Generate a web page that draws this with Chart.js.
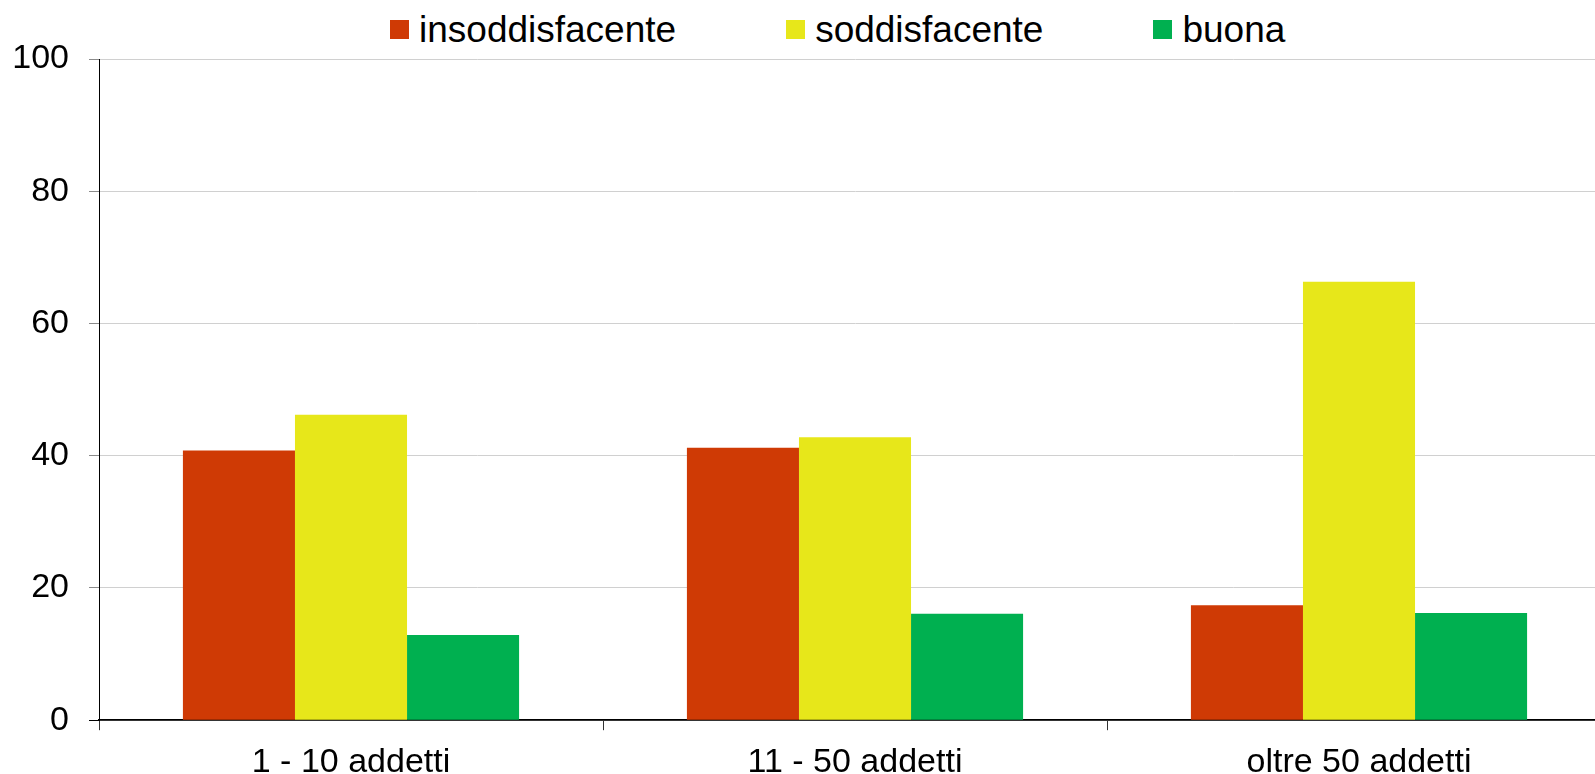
<!DOCTYPE html>
<html lang="it">
<head>
<meta charset="utf-8">
<title>Valutazione per classe di addetti</title>
<script src="https://cdn.jsdelivr.net/npm/chart.js@4/dist/chart.umd.min.js"></script>
<style>
  html, body { margin: 0; padding: 0; background: #fff; overflow: hidden; }
  body { width: 1595px; height: 774px; position: relative; font-family: "Liberation Sans", Arial, sans-serif; }
  #legend {
    position: absolute; left: 390px; top: 11px;
    display: flex; gap: 110px; align-items: center;
    font-size: 37px; line-height: 37px; color: #000;
  }
  #legend .item { display: flex; align-items: center; gap: 10px; white-space: nowrap; }
  #legend .box { width: 19px; height: 19px; display: inline-block; }
  #wrap { position: absolute; left: 0; top: 0; width: 1611px; height: 795px; }
</style>
</head>
<body>
<div id="legend"></div>
<div id="wrap"><canvas id="chart" width="1611" height="795"></canvas></div>
<script>
const CATEGORIES = ['1 - 10 addetti', '11 - 50 addetti', 'oltre 50 addetti'];

const SERIES_NAMES = ['insoddisfacente', 'soddisfacente', 'buona'];
const INSODDISFACENTE = [40.8, 41.2, 17.4];
const SODDISFACENTE = [46.2, 42.8, 66.3];
const BUONA = [12.9, 16.1, 16.2];

const Y_TICKS = [0, 20, 40, 60, 80, 100];

const COLORS = ['#cf3a05', '#e7e71a', '#00b050'];
const FONT = '"Liberation Sans", Arial, sans-serif';

function renderLegend() {
  const el = document.getElementById('legend');
  SERIES_NAMES.forEach((name, i) => {
    const item = document.createElement('span');
    item.className = 'item';
    const box = document.createElement('span');
    box.className = 'box';
    box.style.background = COLORS[i];
    const txt = document.createElement('span');
    txt.textContent = name;
    item.appendChild(box);
    item.appendChild(txt);
    el.appendChild(item);
  });
}

function renderChart() {
  const values = [INSODDISFACENTE, SODDISFACENTE, BUONA];
  const datasets = SERIES_NAMES.map((name, i) => ({
    label: name,
    data: values[i],
    backgroundColor: COLORS[i],
    borderWidth: 0,
    categoryPercentage: 0.667,
    barPercentage: 1
  }));

  new Chart(document.getElementById('chart'), {
    type: 'bar',
    data: { labels: CATEGORIES, datasets },
    options: {
      responsive: false,
      animation: false,
      layout: { padding: { left: 14, top: 59, right: 0, bottom: 0 } },
      plugins: {
        legend: { display: false },
        tooltip: { enabled: false }
      },
      scales: {
        x: {
          grid: {
            drawOnChartArea: false,
            drawTicks: true,
            tickLength: 10,
            tickColor: '#333',
            offset: true
          },
          border: { color: '#000', width: 1.8 },
          ticks: { color: '#000', padding: 12, font: { family: FONT, size: 34 } }
        },
        y: {
          min: 0,
          max: 100,
          afterBuildTicks: (axis) => { axis.ticks = Y_TICKS.map(v => ({ value: v })); },
          afterFit: (axis) => { axis.width = 85; },
          grid: {
            color: '#d0d0d0',
            lineWidth: 1,
            tickLength: 10,
            tickColor: (ctx) => (ctx.tick && ctx.tick.value === 0 ? '#000' : '#8a8a8a')
          },
          border: { color: '#000', width: 1 },
          ticks: { color: '#000', padding: 20, font: { family: FONT, size: 34 } }
        }
      }
    }
  });
}

renderLegend();
renderChart();
</script>
</body>
</html>
